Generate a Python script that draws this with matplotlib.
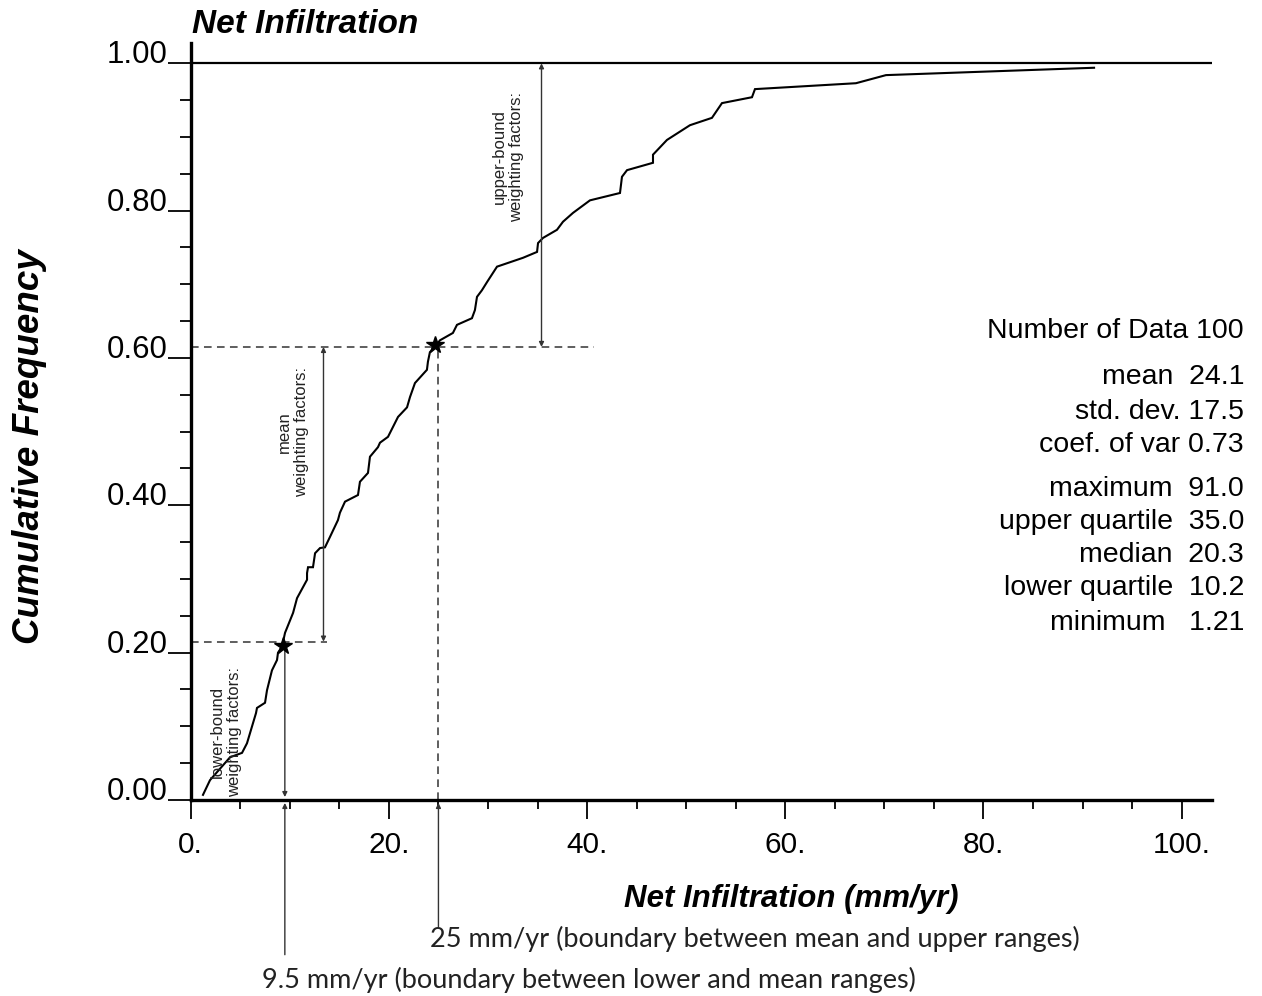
import matplotlib
matplotlib.use("Agg")
import matplotlib.pyplot as plt

# === Données ===
infil = [1.24, 1.95, 3.97, 5.18, 5.68, 6.59, 6.69, 7.50, 7.70, 8.20, 8.71, 8.81, 9.21,
         9.52, 10.33, 10.73, 11.74, 11.74, 11.84, 12.34, 12.55, 13.05, 13.55, 14.05,
         14.86, 15.06, 15.57, 16.88, 17.08, 17.89, 18.09, 18.90, 19.10, 19.91, 20.92,
         21.83, 22.13, 22.63, 23.84, 23.94, 24.14, 24.65, 25.15, 26.46, 26.87, 28.38,
         28.68, 28.89, 29.39, 29.90, 30.91, 33.53, 34.95, 35.05, 35.55, 36.96, 37.57,
         38.58, 40.29, 43.32, 43.52, 44.03, 46.65, 46.65, 48.06, 50.38, 52.60, 53.61,
         56.64, 56.94, 67.13, 70.16, 91.16]
cumfreq = [0.007, 0.027, 0.058, 0.064, 0.077, 0.118, 0.125, 0.132, 0.149, 0.176, 0.190,
           0.200, 0.208, 0.227, 0.254, 0.274, 0.299, 0.308, 0.316, 0.316, 0.335, 0.342,
           0.343, 0.357, 0.380, 0.390, 0.405, 0.414, 0.432, 0.444, 0.466, 0.479, 0.485,
           0.493, 0.520, 0.533, 0.547, 0.566, 0.584, 0.595, 0.608, 0.615, 0.624, 0.634,
           0.645, 0.654, 0.665, 0.683, 0.692, 0.703, 0.724, 0.736, 0.744, 0.756, 0.763,
           0.774, 0.785, 0.797, 0.814, 0.824, 0.846, 0.855, 0.865, 0.876, 0.896, 0.916,
           0.926, 0.946, 0.954, 0.965, 0.973, 0.984, 0.994]

star_x = [9.3, 24.65]
star_f = [0.209, 0.617]

borne_basse = 9.5      # mm/yr
borne_haute = 25.0     # mm/yr
f_basse = 0.215
f_haute = 0.615
fleche_moy_x = 13.4
fleche_sup_x = 35.4
fin_tiret_bas = 13.8
fin_tiret_haut = 40.7

x_ticks = [0, 20, 40, 60, 80, 100]
x_labels = ["0.", "20.", "40.", "60.", "80.", "100."]
y_ticks = [0.0, 0.2, 0.4, 0.6, 0.8, 1.0]
y_labels = ["0.00", "0.20", "0.40", "0.60", "0.80", "1.00"]

stats_noms = ["Number of Data", "mean", "std. dev.", "coef. of var", "maximum",
              "upper quartile", "median", "lower quartile", "minimum"]
stats_vals = ["100", " 24.1", "17.5", "0.73", " 91.0", " 35.0", " 20.3", " 10.2", "  1.21"]
stats_base = [338, 384, 419, 452, 496, 529, 562, 595, 630]   # pixels depuis le haut

W, H = 1262, 996
FONT = "Liberation Sans"
GRIS = "#333333"

fig = plt.figure(figsize=(W / 100, H / 100), dpi=100)
ax = fig.add_axes([190.7 / W, (H - 800) / H, (1212 - 190.7) / W, (800 - 43) / H])
ax.set_xlim(0, 103.06)
ax.set_ylim(0, 1.0276)

for s in ["top", "right"]:
    ax.spines[s].set_visible(False)
for s in ["left", "bottom"]:
    ax.spines[s].set_linewidth(2.4)

# === Axes et graduations ===
ax.set_xticks(x_ticks, x_labels, fontsize=21.5, family=FONT)
ax.set_xticks(range(0, 105, 5), minor=True)
ax.set_yticks(y_ticks, y_labels, fontsize=22.5, family=FONT)
ax.set_yticks([i * 0.05 for i in range(21)], minor=True)
ax.tick_params(axis="x", which="major", direction="out", length=14, width=1.3, pad=8)
ax.tick_params(axis="x", which="minor", direction="out", length=6.5, width=1.3)
ax.tick_params(axis="y", which="major", direction="out", length=16.5, width=1.3, pad=0)
ax.tick_params(axis="y", which="minor", direction="out", length=8, width=1.3)
for lab in ax.get_yticklabels():
    lab.set_verticalalignment("baseline")

ax.axhline(1.0, color="black", lw=1.6)

# === Courbe ===
ax.plot(infil, cumfreq, color="black", lw=1.5, solid_joinstyle="miter")
ax.plot(star_x, star_f, ls="none", marker="*", color="black", ms=13, zorder=5)

# === Lignes pointillées ===
tirets = (0, (5, 3.5))
ax.plot([0, fin_tiret_bas], [f_basse, f_basse], ls=tirets, color=GRIS, lw=1.1)
ax.plot([0, fin_tiret_haut], [f_haute, f_haute], ls=tirets, color=GRIS, lw=1.1)
ax.plot([borne_haute, borne_haute], [0, f_haute], ls=tirets, color=GRIS, lw=1.1)

# === Flèches ===
fl = dict(arrowstyle="<|-|>", color=GRIS, lw=1.0, shrinkA=0, shrinkB=0, mutation_scale=7)
ax.annotate("", xy=(fleche_sup_x, 1.0), xytext=(fleche_sup_x, f_haute), arrowprops=fl)
ax.annotate("", xy=(fleche_moy_x, f_haute), xytext=(fleche_moy_x, f_basse), arrowprops=fl)
fl1 = dict(arrowstyle="-|>", color=GRIS, lw=1.0, shrinkA=0, shrinkB=0, mutation_scale=7)
ax.annotate("", xy=(borne_basse, 0.004), xytext=(borne_basse, star_f[0]), arrowprops=fl1)
ax.annotate("", xy=(borne_basse, -0.004), xytext=(borne_basse, -0.21),
            arrowprops=fl1, annotation_clip=False)
ax.annotate("", xy=(borne_haute, -0.004), xytext=(borne_haute, -0.172),
            arrowprops=fl1, annotation_clip=False)

# === Textes ===
kw = dict(rotation=90, ha="center", va="center", multialignment="center",
          fontsize=12, family=FONT, color="#222222", linespacing=1.15)
ax.text(32.0, 0.873, "upper-bound\nweighting factors:", **kw)
ax.text(10.3, 0.4995, "mean\nweighting factors:", **kw)
ax.text(3.56, 0.0923, "lower-bound\nweighting factors:", **kw)

fig.text(192 / W, 1 - 33 / H, "Net Infiltration", fontsize=24, family=FONT,
         weight="bold", style="italic", va="baseline")
fig.text(791 / W, 1 - 907 / H, "Net Infiltration (mm/yr)", fontsize=22.5, family=FONT,
         weight="bold", style="italic", ha="center", va="baseline")
fig.text(30 / W, 1 - 447 / H, "Cumulative Frequency", fontsize=26.5, family=FONT,
         weight="bold", style="italic", rotation=90, ha="center", va="center")

for nom, val, yb in zip(stats_noms, stats_vals, stats_base):
    fig.text(1244 / W, 1 - yb / H, nom + " " + val, fontsize=20.5, family=FONT,
             ha="right", va="baseline")

fig.text(430 / W, 1 - 947 / H, "25 mm/yr (boundary between mean and upper ranges)",
         fontsize=19.5, family="Lato", color="#222222", va="baseline")
fig.text(262 / W, 1 - 988 / H, "9.5 mm/yr (boundary between lower and mean ranges)",
         fontsize=19.5, family="Lato", color="#222222", va="baseline")

fig.savefig("out.png", dpi=100)
